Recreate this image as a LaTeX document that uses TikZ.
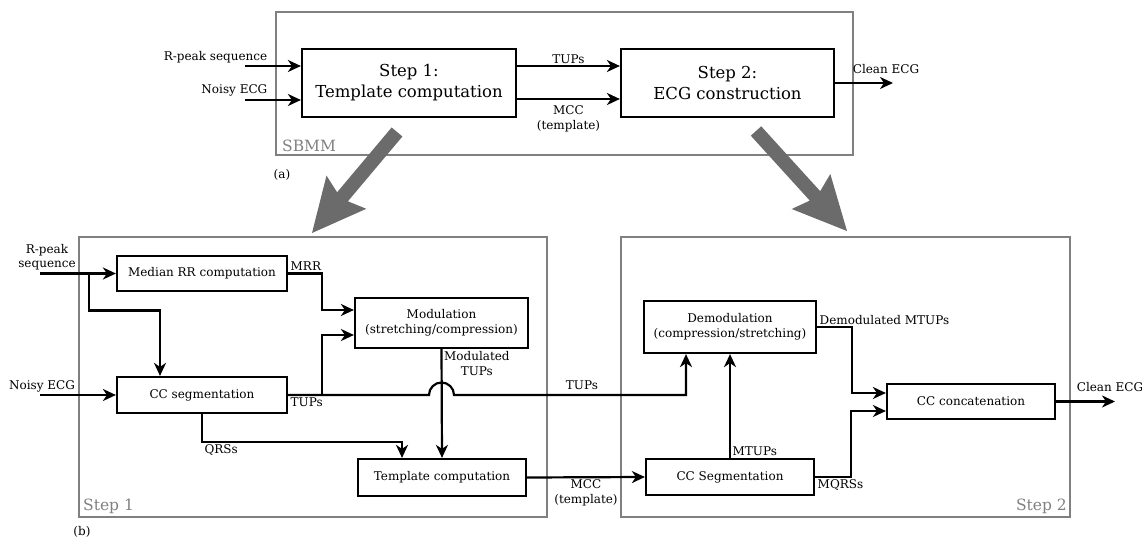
\documentclass[tikz,border=0pt]{standalone}
\usepackage{fontspec}
\setmainfont{DejaVu Serif}
\usetikzlibrary{arrows.meta}

\begin{document}
\begin{tikzpicture}[x=1pt,y=-1pt,
	blk/.style={draw,line width=2.2pt,inner sep=0pt,align=center,font=\fontsize{12}{15.5}\selectfont},
	bigblk/.style={blk,font=\fontsize{16.5}{21}\selectfont},
	grp/.style={draw=black!50,line width=1.8pt},
	grplbl/.style={text=black!50,font=\fontsize{15.5}{18}\selectfont,inner sep=0pt},
	lbl/.style={font=\fontsize{12}{14.5}\selectfont,align=center,inner sep=1.5pt},
	arr/.style={line width=2.2pt,-{Stealth[length=13pt,width=12pt,inset=4pt]}},
	bigarr/.style={fill=black!58}]
	\useasboundingbox (0,0) rectangle (1142,540);

	% (a) overview
	\draw[grp] (276,12) rectangle (853,155);
	\node[grplbl,anchor=west] (sbmm) at (282,146) {SBMM};
	\node[bigblk,minimum width=214pt,minimum height=68pt] (s1) at (409,83) {Step 1:\\Template computation};
	\node[bigblk,minimum width=213pt,minimum height=68pt] (s2) at (727.5,83) {Step 2:\\ECG construction};
	\coordinate (rin) at (245,66);
	\coordinate (nin) at (245,100);
	\coordinate (outA) at (893,83);
	\node[lbl,anchor=east] (rpkA) at (269,57) {R-peak sequence};
	\node[lbl,anchor=east] (noisyA) at (269,90) {Noisy ECG};
	\draw[arr] (rin) -- (rin -| s1.west);
	\draw[arr] (nin) -- (nin -| s1.west);
	\draw[arr] ([yshift=17pt]s1.east) -- ([yshift=17pt]s2.west) node[lbl,midway,above] (tupsA) {TUPs};
	\draw[arr] ([yshift=-16pt]s1.east) -- ([yshift=-16pt]s2.west) node[lbl,midway,below,yshift=-4pt] (mccA) {MCC\\(template)};
	\draw[arr] (s2.east) -- (outA);
	\node[lbl] (cleanA) at (886,69) {Clean ECG};
	\node[lbl] (pa) at (282,175) {(a)};

	\fill[bigarr] (391.6,127.5) -- (337.1,192.3) -- (326.5,175.6) -- (312,233) -- (366.3,208.8) -- (347.9,201.3) -- (402.4,136.5) -- cycle;
	\fill[bigarr] (761.2,126.3) -- (820.2,191.2) -- (830.3,174.0) -- (847,231) -- (791.7,209.0) -- (809.8,200.6) -- (750.8,135.7) -- cycle;

	% (b) step 1
	\draw[grp] (79,237) rectangle (547,517);
	\node[grplbl,anchor=west] (st1) at (83,506) {Step 1};
	\node[blk,minimum width=170pt,minimum height=35pt] (mrr) at (202,273.5) {Median RR computation};
	\node[blk,minimum width=170pt,minimum height=36pt] (ccs) at (202,395) {CC segmentation};
	\node[blk,minimum width=173pt,minimum height=50pt] (mod) at (441.5,323) {Modulation\\(stretching/compression)};
	\node[blk,minimum width=168pt,minimum height=37pt] (tpl) at (442,477.5) {Template computation};
	\coordinate (rinB) at (40,273.5);
	\coordinate (ninB) at (40,395);
	\coordinate (brB) at (89,273.5);
	\node[lbl] (rpkB) at (47,257) {R-peak\\sequence};
	\node[lbl] (noisyB) at (42,386) {Noisy ECG};
	\draw[arr] (rinB) -- (mrr.west);
	\draw[arr] (brB) |- +(71,37) -- ([xshift=-42pt]ccs.north);
	\draw[arr] (ninB) -- (ccs.west);
	\draw[arr] (mrr.east) node[lbl,above right] (mrrl) {MRR} -- +(34,0) |- ([yshift=13pt]mod.west);
	\draw[arr] (ccs.east) node[lbl,below right] (tupsB) {TUPs} -- +(34,0) |- ([yshift=-12pt]mod.west);
	\draw[arr] (ccs.south) -- +(0,28) node[lbl,below right] (qrs) {QRSs} -| ([xshift=-40pt]tpl.north);
	\draw[arr] (mod.south) node[lbl,below right] (modl) {Modulated\\TUPs} -- (tpl.north);

	% (b) step 2
	\draw[grp] (621,237) rectangle (1070,517);
	\node[grplbl,anchor=east] (st2) at (1067,506) {Step 2};
	\node[blk,minimum width=172pt,minimum height=52pt] (dem) at (730,327) {Demodulation\\(compression/stretching)};
	\node[blk,minimum width=168pt,minimum height=36pt] (cseg) at (730,477) {CC Segmentation};
	\node[blk,minimum width=168pt,minimum height=35pt] (cat) at (971,401.5) {CC concatenation};
	\coordinate (outB) at (1115,401.5);
	\draw[arr] (ccs.east) -- ([xshift=-12.5pt]mod.south |- ccs.east) arc[start angle=180,end angle=360,radius=12.5] -| ([xshift=-44pt]dem.south);
	\node[lbl] (tupsC) at (582,385) {TUPs};
	\draw[arr] (tpl.east) -- (cseg.west) node[lbl,midway,below] (mccB) {MCC\\(template)};
	\draw[arr] (cseg.north) node[lbl,above right] (mtups) {MTUPs} -- (dem.south);
	\draw[arr] (dem.east) node[lbl,above right] (dml) {Demodulated MTUPs} -- +(35,0) |- ([yshift=8.5pt]cat.west);
	\draw[arr] (cseg.east) node[lbl,below right] (mqrs) {MQRSs} -- +(36,0) |- ([yshift=-9.5pt]cat.west);
	\draw[arr] (cat.east) -- (outB);
	\node[lbl] (cleanB) at (1110,387) {Clean ECG};
	\node[lbl] (pb) at (82,532) {(b)};
\end{tikzpicture}
\end{document}
